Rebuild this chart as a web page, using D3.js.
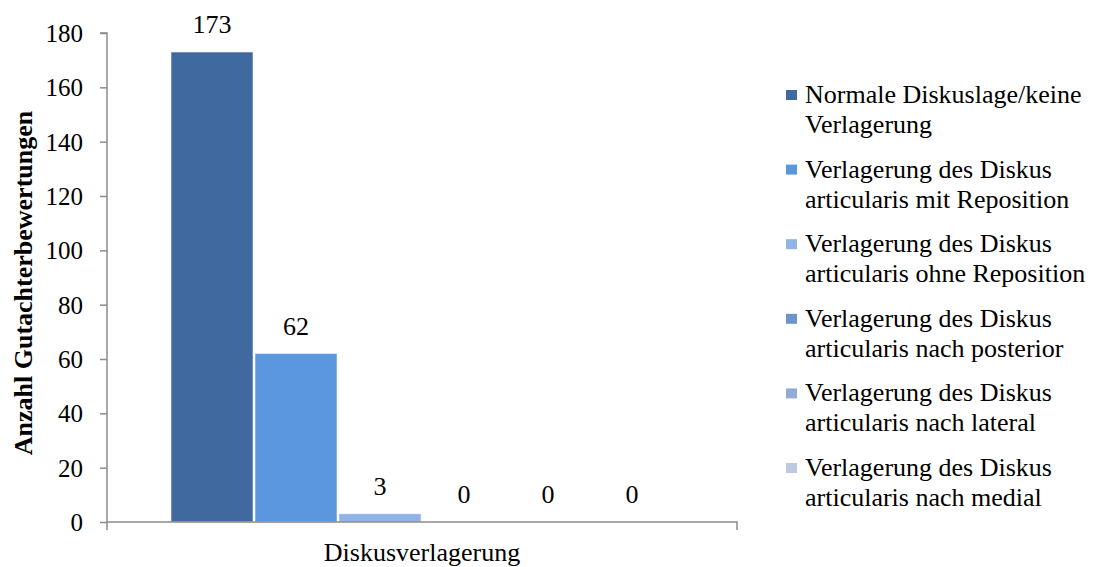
<!DOCTYPE html>
<html><head><meta charset="utf-8">
<script src="https://cdn.jsdelivr.net/npm/d3@7"></script>
<style>body{margin:0;background:#fff}svg{display:block}text{font-family:"Liberation Serif","Times New Roman",serif;fill:#000}</style>
</head><body><svg id="c" width="1094" height="567"></svg>
<script>
const categories = ["Normale Diskuslage/keine Verlagerung","Verlagerung des Diskus articularis mit Reposition","Verlagerung des Diskus articularis ohne Reposition","Verlagerung des Diskus articularis nach posterior","Verlagerung des Diskus articularis nach lateral","Verlagerung des Diskus articularis nach medial"];
const legendLines = [["Normale Diskuslage/keine","Verlagerung"],["Verlagerung des Diskus","articularis mit Reposition"],["Verlagerung des Diskus","articularis ohne Reposition"],["Verlagerung des Diskus","articularis nach posterior"],["Verlagerung des Diskus","articularis nach lateral"],["Verlagerung des Diskus","articularis nach medial"]];
const values = [173, 62, 3, 0, 0, 0];
const colors = ["#4069A0","#5B97DE","#8EB4E8","#6E93C8","#93ABD6","#BCC9E2"];
const yTicks = [0,20,40,60,80,100,120,140,160,180];
const xLabel = "Diskusverlagerung";
const yLabel = "Anzahl Gutachterbewertungen";

const svg = d3.select("#c");
const L = 107, R = 737, T = 33, B = 522;
const FS = "26px";
const y = d3.scaleLinear().domain([0,180]).range([B,T]);
const x1 = d3.scaleBand().domain(categories).range([170,674]).padding(0);

// bars
svg.append("g").selectAll("rect").data(categories).join("rect")
  .attr("x", d=>x1(d)+1).attr("width", x1.bandwidth()-2)
  .attr("y", (d,i)=>y(values[i])).attr("height", (d,i)=>B-y(values[i]))
  .attr("fill", (d,i)=>colors[i]).attr("stroke","#e8eef8").attr("stroke-width",0.6);

// value labels
svg.append("g").selectAll("text").data(categories).join("text")
  .attr("x", d=>x1(d)+x1.bandwidth()/2).attr("y",(d,i)=>y(values[i])-19)
  .attr("text-anchor","middle").attr("font-size",FS).text((d,i)=>values[i]);

// y axis
const ya = svg.append("g").attr("transform",`translate(${L},0)`)
  .call(d3.axisLeft(y).tickValues(yTicks).tickSize(7).tickPadding(17));
ya.selectAll("text").attr("font-size","25px").attr("font-family","Liberation Serif").attr("dy","0.34em");
ya.selectAll("line,path").attr("stroke","#8c8c8c").attr("stroke-width",1.5);
ya.select("path").attr("d",`M-7,${T}H0V${B}`);

// x axis
const xa = svg.append("g").attr("transform",`translate(0,${B})`);
xa.append("path").attr("d",`M${L},0H${R}V8`).attr("fill","none").attr("stroke","#8c8c8c").attr("stroke-width",1.5);
xa.append("path").attr("d",`M${L},0V8`).attr("fill","none").attr("stroke","#8c8c8c").attr("stroke-width",1.5);
svg.append("text").attr("x", (L+R)/2).attr("y",561).attr("text-anchor","middle").attr("font-size",FS).text(xLabel);

// y title
svg.append("text").attr("transform","translate(32,283) rotate(-90)").attr("text-anchor","middle")
  .attr("font-size",FS).attr("font-weight","bold").text(yLabel);

// legend
const lg = svg.append("g").selectAll("g").data(categories).join("g")
  .attr("transform",(d,i)=>`translate(786,${103+i*74.6})`);
lg.append("rect").attr("x",0).attr("y",-13).attr("width",11).attr("height",10).attr("fill",(d,i)=>colors[i]);
lg.each(function(d,i){
  const t = d3.select(this).append("text").attr("x",19).attr("y",0).attr("font-size",FS);
  legendLines[i].forEach((ln,j)=>t.append("tspan").attr("x",19).attr("dy",j?30:0).text(ln));
});
</script></body></html>
